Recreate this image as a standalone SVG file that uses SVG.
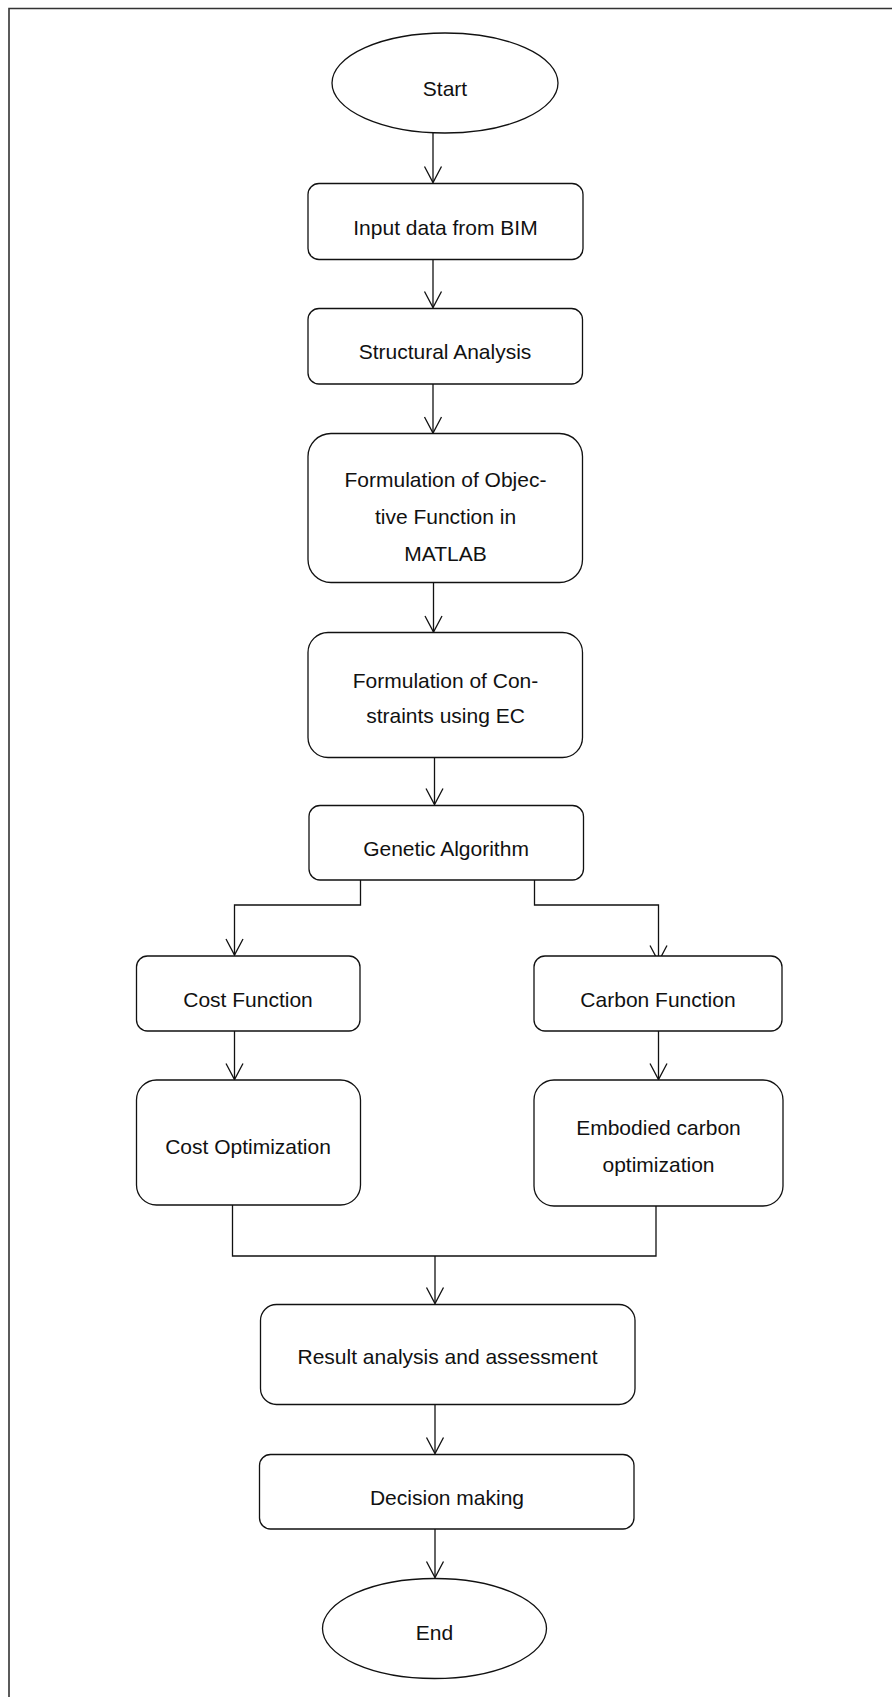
<svg xmlns="http://www.w3.org/2000/svg" width="892" height="1697" viewBox="0 0 892 1697">
  <style>
    .frame { fill: none; stroke: #333; stroke-width: 1.6; }
    .node { fill: #fff; stroke: #111; stroke-width: 1.3; }
    .lbl { font-family: "Liberation Sans", Arial, sans-serif; font-size: 21px; fill: #111; text-anchor: middle; }
    .wire { fill: none; stroke: #111; stroke-width: 1.3; }
    .head { fill: none; stroke: #111; stroke-width: 1.3; stroke-linejoin: miter; }
  </style>
  <defs>
    <marker id="vee" markerUnits="userSpaceOnUse" markerWidth="20" markerHeight="20" viewBox="-18 -10 20 20" refX="0" refY="0" orient="auto">
      <path class="head" d="M-16,-8.5 L0,0 L-16,8.5"/>
    </marker>
  </defs>
  <rect width="892" height="1697" fill="#fff"/>

  <!-- page frame: top and left rules only -->
  <path class="frame" d="M892,8.5 H9 V1697"/>

  <g id="connectors">
    <path class="wire" d="M433,133 V182.5" marker-end="url(#vee)"/>
    <path class="wire" d="M433,259.5 V307.5" marker-end="url(#vee)"/>
    <path class="wire" d="M433,384 V433" marker-end="url(#vee)"/>
    <path class="wire" d="M433.5,583 V632" marker-end="url(#vee)"/>
    <path class="wire" d="M434.5,757.5 V804.5" marker-end="url(#vee)"/>
    <path class="wire" d="M360.5,880 V905 H234.5 V955" marker-end="url(#vee)"/>
    <path class="wire" d="M534.5,880 V905 H658.5 V961.5" marker-end="url(#vee)"/>
    <path class="wire" d="M234.5,1031 V1079.5" marker-end="url(#vee)"/>
    <path class="wire" d="M658.5,1031 V1079.5" marker-end="url(#vee)"/>
    <path class="wire" d="M232.5,1205 V1256 H656 V1206"/>
    <path class="wire" d="M435,1256 V1303.5" marker-end="url(#vee)"/>
    <path class="wire" d="M435,1404.5 V1453.5" marker-end="url(#vee)"/>
    <path class="wire" d="M435,1529 V1577.5" marker-end="url(#vee)"/>
  </g>

  <g id="start">
    <ellipse class="node" cx="445" cy="83" rx="113" ry="50"/>
    <text class="lbl" x="445" y="96">Start</text>
  </g>

  <g id="input-data">
    <rect class="node" x="308" y="183.5" width="275" height="76" rx="11"/>
    <text class="lbl" x="445.5" y="235">Input data from BIM</text>
  </g>

  <g id="structural-analysis">
    <rect class="node" x="308" y="308.5" width="274.5" height="75.5" rx="11"/>
    <text class="lbl" x="445" y="359">Structural Analysis</text>
  </g>

  <g id="objective-function">
    <rect class="node" x="308" y="433.5" width="274.5" height="149" rx="23"/>
    <text class="lbl" x="445.5" y="487">Formulation of Objec-</text>
    <text class="lbl" x="445.5" y="524">tive Function in</text>
    <text class="lbl" x="445.5" y="561">MATLAB</text>
  </g>

  <g id="constraints">
    <rect class="node" x="308" y="632.5" width="274.5" height="125" rx="20"/>
    <text class="lbl" x="445.5" y="687.5">Formulation of Con-</text>
    <text class="lbl" x="445.5" y="723">straints using EC</text>
  </g>

  <g id="genetic-algorithm">
    <rect class="node" x="309" y="805.5" width="274.5" height="74.5" rx="11"/>
    <text class="lbl" x="446" y="856">Genetic Algorithm</text>
  </g>

  <g id="cost-function">
    <rect class="node" x="136.5" y="956" width="223.5" height="75" rx="11"/>
    <text class="lbl" x="248" y="1007">Cost Function</text>
  </g>

  <g id="carbon-function">
    <rect class="node" x="534" y="956" width="248" height="75" rx="11"/>
    <text class="lbl" x="658" y="1007">Carbon Function</text>
  </g>

  <g id="cost-optimization">
    <rect class="node" x="136.5" y="1080" width="224" height="125" rx="20"/>
    <text class="lbl" x="248" y="1153.5">Cost Optimization</text>
  </g>

  <g id="carbon-optimization">
    <rect class="node" x="534" y="1080" width="249" height="126" rx="20"/>
    <text class="lbl" x="658.5" y="1135">Embodied carbon</text>
    <text class="lbl" x="658.5" y="1172">optimization</text>
  </g>

  <g id="result-analysis">
    <rect class="node" x="260.5" y="1304.5" width="374.5" height="100" rx="16"/>
    <text class="lbl" x="447.5" y="1363.5">Result analysis and assessment</text>
  </g>

  <g id="decision-making">
    <rect class="node" x="259.5" y="1454.5" width="374.5" height="74.5" rx="11"/>
    <text class="lbl" x="447" y="1504.5">Decision making</text>
  </g>

  <g id="end">
    <ellipse class="node" cx="434.5" cy="1628.5" rx="112" ry="50"/>
    <text class="lbl" x="434.5" y="1640">End</text>
  </g>
</svg>
